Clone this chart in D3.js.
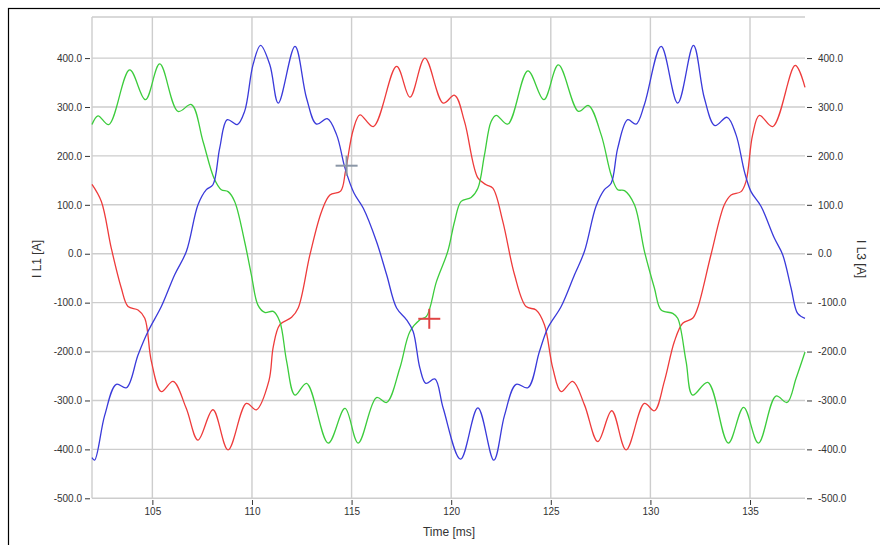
<!DOCTYPE html>
<html lang="en">
<head>
  <meta charset="utf-8">
  <title>I L1 / I L3</title>
  <script src="https://cdn.jsdelivr.net/npm/d3@7"></script>
  <style>
    body { margin: 0; background: #fff; }
    svg text { font-family: "Liberation Sans", Arial, sans-serif; fill: #333; }
  </style>
</head>
<body>
<div class="chart"></div>
<script>
  // values: [time ms, current A]
  var redPts = [
    [101.97, 142], [102.44, 107], [102.94, 11], [103.44, -70], [103.78, -108], [104.28, -115],
    [104.62, -132], [104.95, -220], [105.45, -282], [106.04, -261], [106.7, -316], [107.29, -381],
    [108.04, -319], [108.8, -401], [109.72, -306], [110.22, -319], [110.85, -260], [111.07, -190],
    [111.4, -145], [111.99, -130], [112.32, -111], [112.91, -2], [113.49, 86], [113.91, 120],
    [114.45, 128], [114.7, 170], [115.08, 253], [115.42, 284], [116.09, 260], [117.26, 383],
    [117.93, 320], [118.68, 400], [119.6, 308], [120.17, 324], [120.67, 270], [121.34, 155],
    [121.76, 141], [122.09, 134], [122.59, 66], [123.18, -43], [123.76, -108], [124.26, -115],
    [124.68, -145], [125.1, -234], [125.52, -282], [126.1, -261], [126.69, -309], [127.36, -384],
    [128.06, -321], [128.78, -401], [129.7, -306], [130.2, -321], [130.7, -261], [131.2, -180],
    [131.62, -142], [132.12, -132], [132.37, -111], [133.04, -2], [133.71, 100], [134.05, 120],
    [134.55, 127], [134.8, 148], [135.13, 243], [135.47, 283], [136.14, 260], [137.27, 385],
    [137.76, 340]
  ];
  var greenPts = [
    [101.97, 264], [102.27, 282], [102.81, 264], [103.86, 376], [104.65, 315], [105.37, 388],
    [106.29, 291], [106.96, 305], [107.54, 230], [108.09, 155], [108.46, 131], [108.8, 127],
    [109.13, 107], [109.63, 25], [109.97, -43], [110.3, -105], [110.64, -120], [111.07, -118],
    [111.4, -139], [111.74, -220], [112.16, -289], [112.74, -265], [113.83, -387], [114.67, -316],
    [115.33, -387], [116.25, -294], [116.76, -304], [117.42, -234], [117.93, -159], [118.43, -135],
    [118.76, -128], [119.26, -57], [119.83, 5], [120.17, 66], [120.5, 107], [121.0, 115],
    [121.34, 134], [121.67, 202], [122.0, 270], [122.26, 283], [122.84, 265], [123.85, 374],
    [124.65, 315], [125.38, 386], [126.39, 291], [126.89, 303], [127.53, 243], [128.03, 161],
    [128.36, 131], [128.7, 129], [129.2, 100], [129.7, 5], [130.2, -70], [130.54, -115],
    [131.12, -122], [131.37, -132], [131.79, -220], [132.12, -289], [132.88, -263], [133.91, -387],
    [134.68, -314], [135.42, -387], [136.3, -291], [136.86, -304], [137.31, -255], [137.76, -201]
  ];
  var bluePts = [
    [101.97, -417], [102.1, -422], [102.61, -330], [103.19, -267], [103.7, -274], [104.28, -207],
    [104.78, -159], [105.45, -108], [106.12, -43], [106.71, 5], [107.29, 100], [107.71, 131],
    [108.04, 141], [108.38, 216], [108.76, 274], [109.26, 264], [109.63, 291], [110.05, 386],
    [110.43, 426], [110.9, 386], [111.32, 308], [112.16, 424], [112.74, 318], [113.24, 265],
    [113.78, 276], [114.25, 243], [114.67, 175], [115.12, 124], [115.59, 93], [116.25, 25],
    [116.76, -43], [117.26, -111], [117.76, -135], [118.09, -159], [118.43, -234], [118.73, -265],
    [119.18, -256], [119.6, -316], [120.47, -420], [121.34, -315], [122.14, -422], [122.68, -330],
    [123.26, -267], [123.85, -274], [124.43, -200], [124.85, -152], [125.52, -108], [126.19, -43],
    [126.69, 5], [127.27, 97], [127.69, 131], [128.03, 144], [128.36, 216], [128.86, 274],
    [129.28, 265], [129.7, 305], [130.54, 424], [131.37, 308], [132.16, 426], [132.71, 318],
    [133.24, 262], [133.85, 279], [134.3, 243], [134.72, 168], [135.05, 127], [135.55, 97],
    [136.22, 32], [136.64, -2], [137.06, -70], [137.39, -122], [137.76, -132]
  ];
  var cursors = [[114.75, 180, "#8a96a6"], [118.9, -133, "#e04444"]];
  var xTicks = [105, 110, 115, 120, 125, 130, 135];
  var yTicks = [-500, -400, -300, -200, -100, 0, 100, 200, 300, 400];

  var w = 880,
    h = 545;

  var svg = d3.select('.chart')
    .append('svg')
    .attr('width', w)
    .attr('height', h);

  // outer frame, right and bottom run off the picture
  svg.append('rect')
    .attr('x', 8.5).attr('y', 8.5)
    .attr('width', 900).attr('height', 600)
    .attr('fill', 'none')
    .attr('stroke', '#000')
    .attr('stroke-width', 1.2);

  var x = d3.scaleLinear().domain([101.97, 137.76]).range([92, 805]);
  var y = d3.scaleLinear().domain([-500, 484]).range([498.3, 17]);

  var grid = svg.append('g')
    .attr('stroke', '#cdcdcd')
    .attr('stroke-width', 1.4);
  grid.selectAll('.hg')
    .data(yTicks.concat([484]))
    .enter().append('line')
    .attr('x1', x.range()[0]).attr('x2', x.range()[1])
    .attr('y1', d => y(d)).attr('y2', d => y(d));
  grid.selectAll('.vg')
    .data([101.97].concat(xTicks))
    .enter().append('line')
    .attr('x1', d => x(d)).attr('x2', d => x(d))
    .attr('y1', y.range()[0]).attr('y2', y.range()[1]);

  var fmt = d => d.toFixed(1);

  var styleAxis = function(g) {
    g.select('.domain').remove();
    g.selectAll('line').attr('stroke', '#333');
    g.selectAll('text').style('font-size', '10px').attr('fill', '#333');
  };

  svg.append('g')
    .attr('transform', 'translate(90,0)')
    .call(d3.axisLeft(y).tickValues(yTicks).tickFormat(fmt).tickSize(5).tickPadding(3))
    .call(styleAxis);

  svg.append('g')
    .attr('transform', 'translate(807,0)')
    .call(d3.axisRight(y).tickValues(yTicks).tickFormat(fmt).tickSize(5).tickPadding(6))
    .call(styleAxis);

  svg.append('g')
    .attr('transform', 'translate(0,500)')
    .call(d3.axisBottom(x).tickValues(xTicks).tickFormat(d3.format('d')).tickSize(5).tickPadding(3))
    .call(styleAxis);

  // axis titles
  svg.append('text')
    .attr('transform', 'translate(41,259) rotate(-90)')
    .attr('text-anchor', 'middle')
    .style('font-size', '12px')
    .text('I L1 [A]');
  svg.append('text')
    .attr('transform', 'translate(857,259) rotate(90)')
    .attr('text-anchor', 'middle')
    .style('font-size', '12px')
    .text('I L3 [A]');
  svg.append('text')
    .attr('x', 449).attr('y', 536)
    .attr('text-anchor', 'middle')
    .style('font-size', '12px')
    .text('Time [ms]');

  var line = d3.line()
    .x(d => x(d[0]))
    .y(d => y(d[1]))
    .curve(d3.curveCatmullRom.alpha(0.5));

  var series = [[redPts, '#ee3b3b'], [greenPts, '#3ccc3c'], [bluePts, '#3a3ada']];
  svg.selectAll('.wave')
    .data(series)
    .enter().append('path')
    .attr('class', 'wave')
    .attr('d', d => line(d[0]))
    .attr('fill', 'none')
    .attr('stroke', d => d[1])
    .attr('stroke-width', 1.3);

  // the two cursor crosses
  var cur = svg.selectAll('.cur')
    .data(cursors)
    .enter().append('g')
    .attr('transform', d => 'translate(' + x(d[0]) + ',' + y(d[1]) + ')')
    .attr('stroke', d => d[2])
    .attr('stroke-width', 2);
  cur.append('line').attr('x1', -11).attr('x2', 11).attr('y1', 0).attr('y2', 0);
  cur.append('line').attr('x1', 0).attr('x2', 0).attr('y1', -10).attr('y2', 10);
</script>
</body>
</html>
